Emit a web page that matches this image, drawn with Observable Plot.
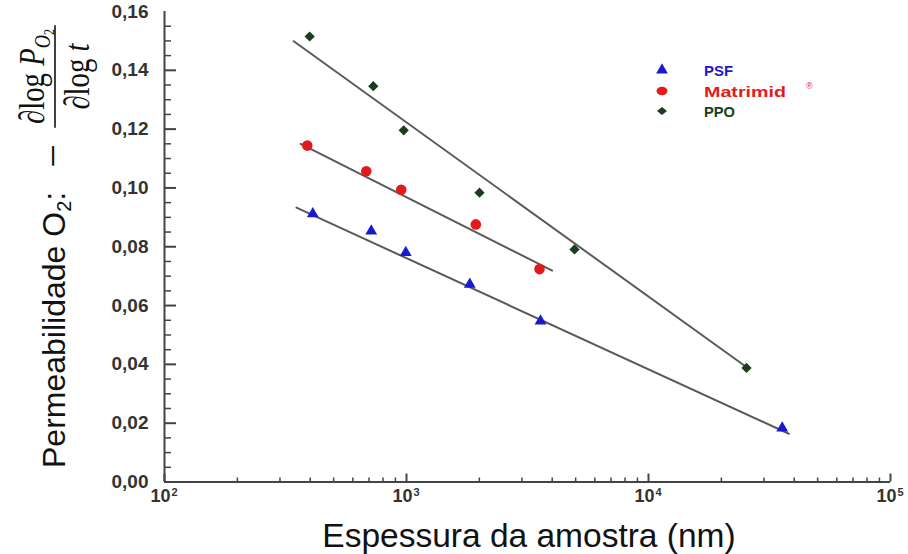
<!DOCTYPE html>
<html><head><meta charset="utf-8">
<script src="https://cdn.jsdelivr.net/npm/d3@7"></script>
<script src="https://cdn.jsdelivr.net/npm/@observablehq/plot@0.6"></script>
<style>html,body{margin:0;padding:0;background:#fff;} #chart{width:908px;height:554px;}</style>
</head><body><div id="chart"></div>
<script>
// ---- data ----
const psfThickness = [410, 715, 993, 1826, 3579, 35690];
const psfSlope = [0.0912, 0.0853, 0.0780, 0.0672, 0.0547, 0.0183];
const matrimidThickness = [389, 682, 951, 1934, 3545];
const matrimidSlope = [0.1144, 0.1057, 0.0994, 0.0876, 0.0724];
const ppoThickness = [398, 729, 974, 2003, 4946, 25410];
const ppoSlope = [0.1515, 0.1346, 0.1196, 0.0984, 0.0791, 0.0388];
// fitted lines (end points)
const psfFitThickness = [351, 38000];
const psfFitSlope = [0.0933, 0.0164];
const matrimidFitThickness = [365, 4000];
const matrimidFitSlope = [0.1150, 0.0719];
const ppoFitThickness = [342, 25970];
const ppoFitSlope = [0.1499, 0.0385];
// ticks
const yLabelTicks = [0, 0.02, 0.04, 0.06, 0.08, 0.10, 0.12, 0.14, 0.16];
const yMajorTicks = [0.02, 0.04, 0.06, 0.08, 0.10, 0.12, 0.14];
const yMinorTicks = [0.005, 0.01, 0.015, 0.025, 0.03, 0.035, 0.045, 0.05, 0.055, 0.065, 0.07, 0.075,
  0.085, 0.09, 0.095, 0.105, 0.11, 0.115, 0.125, 0.13, 0.135, 0.145, 0.15, 0.155];
const xMajorTicks = [100, 1000, 10000, 100000];
const xTickExponents = ["2", "3", "4", "5"];
const xMinorTicks = [200, 300, 400, 500, 600, 700, 800, 900, 2000, 3000, 4000, 5000, 6000, 7000, 8000, 9000,
  20000, 30000, 40000, 50000, 60000, 70000, 80000, 90000];
const seriesNames = ["PSF", "Matrimid", "PPO"];
const seriesColors = ["#1a1acc", "#e11b1b", "#1b3d1b"];

const zip = (xs, ys) => xs.map((x, i) => ({x, y: ys[i]}));
const psf = zip(psfThickness, psfSlope);
const matrimid = zip(matrimidThickness, matrimidSlope);
const ppo = zip(ppoThickness, ppoSlope);
const psfFit = zip(psfFitThickness, psfFitSlope);
const matrimidFit = zip(matrimidFitThickness, matrimidFitSlope);
const ppoFit = zip(ppoFitThickness, ppoFitSlope);

const axisColor = "#444";
const tickFont = {fontSize: 19, fontWeight: "bold", fill: "#333"};

const chart = Plot.plot({
  width: 908, height: 554,
  marginLeft: 164, marginRight: 18, marginTop: 11, marginBottom: 72.5,
  x: {type: "log", domain: [100, 100000]},
  y: {domain: [0, 0.16]},
  style: {fontFamily: "'Liberation Sans', Arial, sans-serif", background: "white", overflow: "visible"},
  marks: [
    // y ticks pointing inward
    Plot.axisY(yMinorTicks, {anchor: "left", tickSize: 7, dx: 7, tickFormat: () => "", label: null, stroke: axisColor, strokeWidth: 1.5}),
    Plot.axisY(yMajorTicks, {anchor: "left", tickSize: 12, dx: 12, tickFormat: () => "", label: null, stroke: axisColor, strokeWidth: 2}),
    Plot.axisY(yLabelTicks, {anchor: "left", tickSize: 0, tickPadding: 16, label: null,
      tickFormat: d => d.toFixed(2).replace(".", ","), ...tickFont}),
    // x ticks pointing inward
    Plot.axisX(xMinorTicks, {anchor: "bottom", tickSize: 4, dy: -4, tickFormat: () => "", label: null, stroke: axisColor, strokeWidth: 1.5}),
    Plot.axisX(xMajorTicks, {anchor: "bottom", tickSize: 8, dy: -8, tickFormat: () => "", label: null, stroke: axisColor, strokeWidth: 2}),
    Plot.text(xMajorTicks, {x: d => d, frameAnchor: "bottom", text: () => "10", dx: -4, dy: 20, fontSize: 18, fontWeight: "bold", fill: "#333"}),
    Plot.text(xMajorTicks, {x: d => d, frameAnchor: "bottom", text: (d, i) => xTickExponents[i], dx: 7, dy: 14,
      textAnchor: "start", fontSize: 11, fontWeight: "bold", fill: "#333"}),
    // axis lines
    Plot.ruleX([100], {stroke: axisColor, strokeWidth: 2}),
    Plot.ruleY([0], {stroke: axisColor, strokeWidth: 2}),
    // fit lines
    Plot.line(ppoFit, {x: "x", y: "y", stroke: "#5a5a5a", strokeWidth: 2}),
    Plot.line(matrimidFit, {x: "x", y: "y", stroke: "#5a5a5a", strokeWidth: 2}),
    Plot.line(psfFit, {x: "x", y: "y", stroke: "#5a5a5a", strokeWidth: 2}),
    // points
    Plot.dot(ppo, {x: "x", y: "y", symbol: "diamond2", r: 4.6, fill: seriesColors[2], stroke: "none"}),
    Plot.dot(matrimid, {x: "x", y: "y", symbol: "circle", r: 5.3, fill: seriesColors[1], stroke: "none"}),
    Plot.dot(psf, {x: "x", y: "y", symbol: "triangle", r: 4.4, fill: seriesColors[0], stroke: "none"})
  ]
});
document.getElementById("chart").appendChild(chart);

const svg = d3.select(chart);

// x label
svg.append("text").attr("x", 529).attr("y", 547).attr("text-anchor", "middle")
  .attr("font-family", "'Liberation Sans', Arial, sans-serif").attr("font-size", 33.5).attr("fill", "#111")
  .text("Espessura da amostra (nm)");

// y label (rotated): x' = -Y, y' = X
const gy = svg.append("g").attr("transform", "rotate(-90)");
const lab = gy.append("text").attr("x", -468).attr("y", 65).attr("text-anchor", "start")
  .attr("font-family", "'Liberation Sans', Arial, sans-serif").attr("font-size", 32).attr("fill", "#111");
lab.append("tspan").text("Permeabilidade O");
lab.append("tspan").attr("font-size", 20).attr("dy", 6).text("2");
lab.append("tspan").attr("dy", -6).text(":");
gy.append("text").attr("x", -156).attr("y", 67).attr("text-anchor", "middle")
  .attr("font-family", "'Liberation Serif', 'Times New Roman', serif").attr("font-size", 42).attr("fill", "#111")
  .text("\u2212");
// fraction
const frac = gy.append("g").attr("transform", "translate(-76.5,0) scale(0.8,1)");
frac.append("line").attr("x1", -64).attr("x2", 64).attr("y1", 55).attr("y2", 55).attr("stroke", "#111").attr("stroke-width", 1.6);
const num = frac.append("text").attr("x", 0).attr("y", 44).attr("text-anchor", "middle")
  .attr("font-family", "'Liberation Serif', 'Times New Roman', serif").attr("font-size", 36).attr("fill", "#111");
num.append("tspan").text("\u2202log ");
num.append("tspan").attr("font-style", "italic").text("P");
num.append("tspan").attr("font-style", "italic").attr("font-size", 23).attr("dy", 6).text("O");
num.append("tspan").attr("font-size", 15).attr("dy", 4).text("2");
const den = frac.append("text").attr("x", 0).attr("y", 89).attr("text-anchor", "middle")
  .attr("font-family", "'Liberation Serif', 'Times New Roman', serif").attr("font-size", 36).attr("fill", "#111");
den.append("tspan").text("\u2202log ");
den.append("tspan").attr("font-style", "italic").text("t");

// legend
const leg = svg.append("g").attr("font-family", "'Liberation Sans', Arial, sans-serif").attr("font-weight", "bold").attr("font-size", 15).attr("text-anchor", "start");
const rowsY = [70, 91, 111];
const textLens = [29, 82, 31];
leg.append("path").attr("d", d3.symbol(d3.symbolTriangle, 60)()).attr("transform", `translate(662,${rowsY[0]})`).attr("fill", seriesColors[0]);
leg.append("ellipse").attr("cx", 662).attr("cy", rowsY[1]).attr("rx", 5.5).attr("ry", 4.2).attr("fill", seriesColors[1]);
leg.append("path").attr("d", "M-5,0L0,-4L5,0L0,4Z").attr("transform", `translate(662,${rowsY[2]})`).attr("fill", seriesColors[2]);
seriesNames.forEach((name, i) => {
  leg.append("text").attr("x", 704).attr("y", rowsY[i] + 5.5).attr("fill", seriesColors[i])
    .attr("textLength", textLens[i]).attr("lengthAdjust", "spacingAndGlyphs").text(name);
});
leg.append("text").attr("x", 806).attr("y", 89).attr("fill", seriesColors[1]).attr("font-size", 9).attr("font-weight", "normal").text("\u00AE");
</script>
</body></html>
